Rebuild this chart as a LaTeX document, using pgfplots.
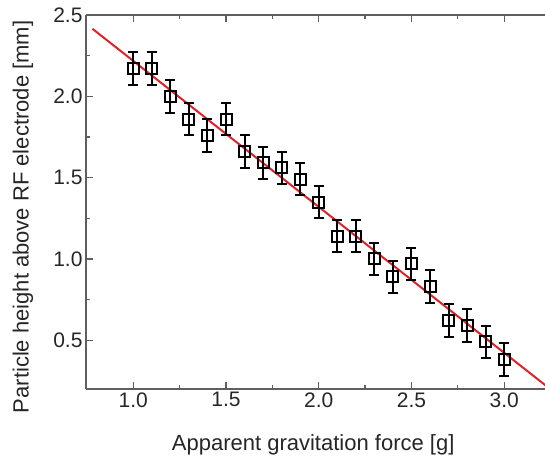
\documentclass[border=0pt]{standalone}
\usepackage{fontspec}
\setmainfont{Liberation Sans}
\usepackage{pgfplots}
\pgfplotsset{compat=1.18}
\definecolor{spine}{RGB}{95,95,95}
\definecolor{fitred}{RGB}{220,35,40}
\begin{document}
\begin{tikzpicture}
\begin{axis}[
  scale only axis,
  width=459pt, height=374pt,
  xmin=0.745, xmax=3.22,
  ymin=0.2, ymax=2.5,
  axis x line=box, axis y line=left,
  axis line style={-, spine, line width=1.5pt},
  tick align=inside,
  xtick={1,1.5,2,2.5,3},
  ytick={0.5,1,1.5,2,2.5},
  minor x tick num=1, minor y tick num=1,
  major tick length=7pt, minor tick length=4.5pt,
  every tick/.style={spine, line width=1.3pt},
  /pgf/number format/assume math mode=true,
  /pgf/number format/.cd, fixed, fixed zerofill, precision=1, /pgfplots/.cd,
  ticklabel style={font=\fontsize{21}{23}\selectfont, text=black!85},
  every axis x label/.style={at={(axis description cs:0.495,-0.15)}, anchor=center},
  every axis y label/.style={at={(axis description cs:-0.1375,0.46)}, rotate=90, anchor=center},
  label style={font=\fontsize{22}{24}\selectfont, text=black!85},
  xlabel={Apparent gravitation force [g]},
  ylabel={Particle height above RF electrode [mm]},
  clip=true,
]
% linear fit
\addplot[fitred, line width=2pt] coordinates {(0.78,2.415) (3.24,0.207)};
% measured heights with uncertainties
\addplot[black, only marks, mark=square, mark size=5.5pt,
  mark options={line width=2pt, fill=white},
  error bars/.cd, y dir=both, y explicit,
  error bar style={line width=2pt, black},
  error mark options={rotate=90, mark size=5pt, line width=2pt, black}]
  coordinates {
  (1.0,2.17) +- (0,0.1)
  (1.1,2.17) +- (0,0.1)
  (1.2,2.00) +- (0,0.1)
  (1.3,1.86) +- (0,0.1)
  (1.4,1.76) +- (0,0.1)
  (1.5,1.86) +- (0,0.1)
  (1.6,1.66) +- (0,0.1)
  (1.7,1.59) +- (0,0.1)
  (1.8,1.56) +- (0,0.1)
  (1.9,1.49) +- (0,0.1)
  (2.0,1.35) +- (0,0.1)
  (2.1,1.14) +- (0,0.1)
  (2.2,1.14) +- (0,0.1)
  (2.3,1.00) +- (0,0.1)
  (2.4,0.89) +- (0,0.1)
  (2.5,0.97) +- (0,0.1)
  (2.6,0.83) +- (0,0.1)
  (2.7,0.62) +- (0,0.1)
  (2.8,0.59) +- (0,0.1)
  (2.9,0.49) +- (0,0.1)
  (3.0,0.38) +- (0,0.1)
  };
\end{axis}
\pgfresetboundingbox
\useasboundingbox ([xshift=-86pt,yshift=-74pt]current axis.south west) rectangle ([yshift=15pt]current axis.north east);
\end{tikzpicture}
\end{document}
